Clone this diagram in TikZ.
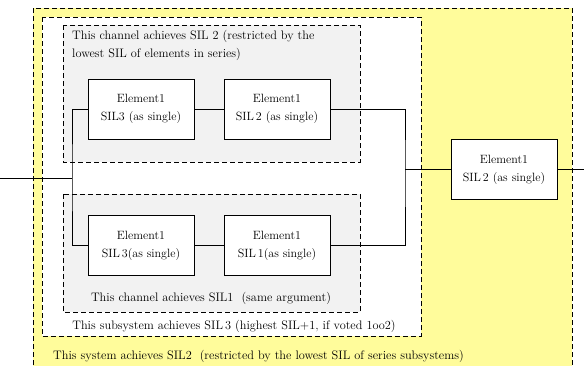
\documentclass[tikz,border=0pt]{standalone}
\usepackage{tikz}
\usetikzlibrary{calc}

\definecolor{sysyellow}{RGB}{255,252,155}
\definecolor{changray}{RGB}{242,242,242}

\tikzset{
	elem/.style={draw, fill=white, minimum width=106pt, minimum height=60pt, inner sep=0pt, align=center, font=\fontsize{12}{18}\selectfont},
	zone/.style={draw, dash pattern=on 5pt off 3pt, line width=0.6pt},
	note/.style={inner sep=0pt, font=\fontsize{12.3}{18}\selectfont},
	wire/.style={line width=0.6pt}
}

\begin{document}
\begin{tikzpicture}[x=1pt, y=-1pt]
	\useasboundingbox (0,0) rectangle (584,365);
	\clip (0,0) rectangle (584,365);
	% zones
	\path[zone, fill=sysyellow] (33,8) rectangle (572,385);
	\path[zone, fill=white] (42,17) rectangle (421,336);
	\path[zone, fill=changray] (63,25) rectangle (360,162);
	\path[zone, fill=changray] (63,194) rectangle (360,312);
	% elements
	\node[elem] (e11) at (141,109) {Element1\\SIL3 (as single)};
	\node[elem] (e12) at (277,109) {Element1\\SIL\,2 (as single)};
	\node[elem] (e21) at (141,245.5) {Element1\\SIL\,3(as single)};
	\node[elem] (e22) at (277,245.5) {Element1\\SIL\,1(as single)};
	\node[elem] (e3) at (504,169.5) {Element1\\SIL\,2 (as single)};
	% free ends and buses
	\coordinate (in) at (0,178);
	\coordinate (out) at (584,169.5);
	\coordinate (lbus) at (72,178);
	\coordinate (rbus) at (405,169.5);
	\draw[wire] (in) -- (lbus);
	\draw[wire] (e11.west) -| (lbus) |- (e21.west);
	\draw[wire] (e11) -- (e12);
	\draw[wire] (e21) -- (e22);
	\draw[wire] (e12.east) -| (rbus) |- (e22.east);
	\draw[wire] (rbus) -- (e3.west);
	\draw[wire] (e3.east) -- (out);
	% labels
	\node[note, anchor=north west, align=left] (t1) at (72,30) {This channel achieves SIL 2 (restricted by the\\lowest SIL of elements in series)};
	\node[note] (t2) at (211,298) {This channel achieves SIL1\ \ (same argument)};
	\node[note] (t3) at (234,326) {This subsystem achieves SIL\,3 (highest SIL+1, if voted 1oo2)};
	\node[note, anchor=west] (t4) at (53,356) {This system achieves SIL2\ \ (restricted by the lowest SIL of series subsystems)};
\end{tikzpicture}
\end{document}
